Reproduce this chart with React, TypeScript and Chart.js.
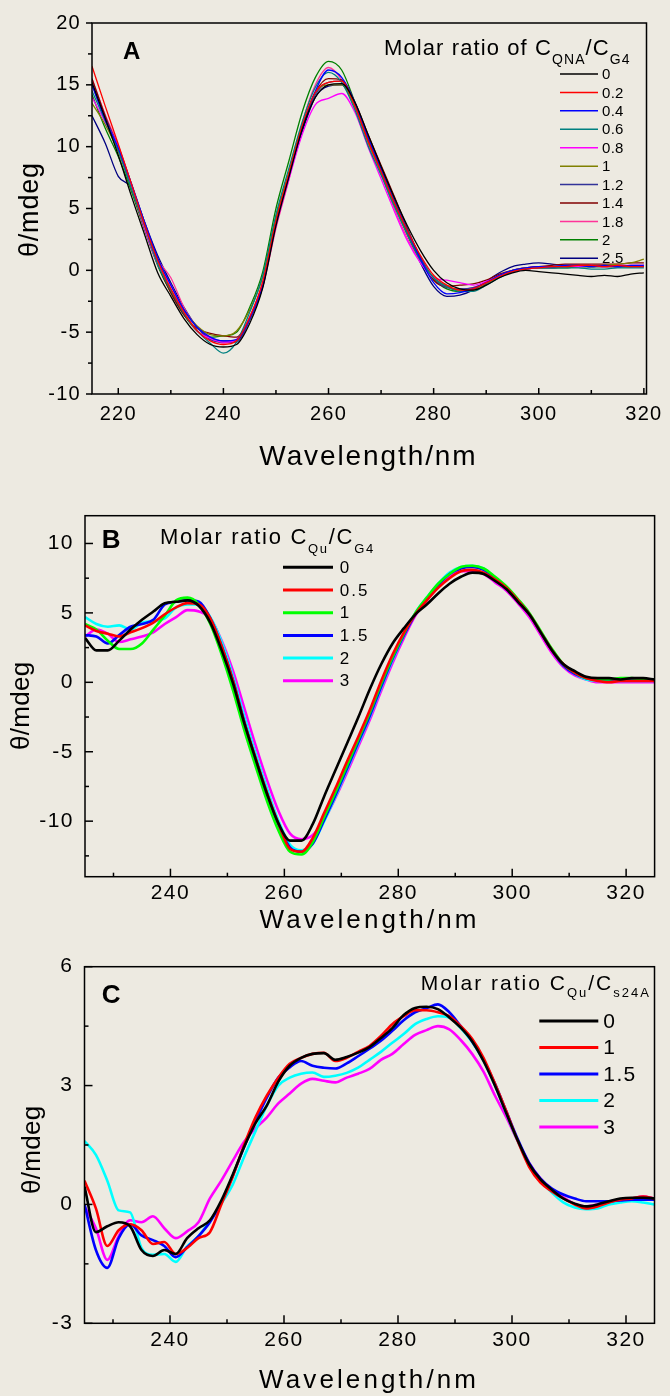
import React, { useEffect, useRef } from "react";
import { Chart, registerables } from "chart.js";

Chart.register(...registerables);

const FONT = "'Liberation Sans', Arial, Helvetica, sans-serif";
const BG = "#edeae1";

// ---------------- Panel A ----------------
const wavelengthA = [215, 217.5, 220, 222.5, 225, 227.5, 230, 232.5, 235, 237.5, 240, 242.5, 245, 247.5, 250, 252.5, 255, 257.5, 260, 262.5, 265, 267.5, 270, 272.5, 275, 277.5, 280, 282.5, 285, 287.5, 290, 292.5, 295, 297.5, 300, 302.5, 305, 307.5, 310, 312.5, 315, 317.5, 320];
const ratioLabelsA = ["0", "0.2", "0.4", "0.6", "0.8", "1", "1.2", "1.4", "1.8", "2", "2.5"];
const colorsA = ["#000000", "#ff0000", "#0000ff", "#008080", "#ff00ff", "#808000", "#333399", "#800000", "#ff3399", "#008000", "#000080"];
const thetaA_0 = [15.2, 12.3, 9.3, 6.0, 2.9, -0.2, -2.1, -3.9, -5.2, -6.0, -6.2, -6.0, -4.3, -1.4, 3.6, 7.6, 11.4, 14.0, 15.0, 15.1, 13.6, 11.0, 8.4, 5.9, 3.6, 1.6, 0.0, -1.0, -1.5, -1.6, -1.2, -0.6, -0.2, 0.0, -0.1, -0.2, -0.3, -0.4, -0.5, -0.4, -0.5, -0.3, -0.2];
const thetaA_02 = [16.5, 13.3, 10.2, 7.0, 3.7, 0.8, -1.5, -3.4, -4.9, -5.7, -6.0, -5.7, -3.8, -0.9, 4.0, 7.9, 11.7, 14.4, 15.2, 15.3, 13.3, 10.5, 8.0, 5.5, 3.2, 1.2, -0.4, -1.2, -1.6, -1.5, -1.0, -0.5, -0.1, 0.1, 0.2, 0.3, 0.3, 0.4, 0.4, 0.3, 0.4, 0.3, 0.3];
const thetaA_04 = [15.0, 12.2, 9.9, 7.0, 3.9, 1.0, -1.2, -3.2, -4.6, -5.4, -5.7, -5.6, -3.9, -1.2, 3.8, 7.7, 11.5, 14.5, 16.2, 15.6, 13.6, 10.8, 8.2, 5.6, 3.2, 0.9, -1.0, -1.9, -1.8, -1.5, -1.0, -0.4, 0.0, 0.2, 0.3, 0.3, 0.4, 0.4, 0.3, 0.4, 0.3, 0.4, 0.4];
const thetaA_06 = [14.5, 12.1, 9.7, 6.6, 3.6, 0.5, -1.6, -3.5, -4.9, -5.9, -6.7, -5.8, -3.4, -0.4, 4.5, 8.3, 12.0, 14.8, 16.0, 15.2, 13.0, 10.1, 7.7, 5.2, 2.9, 0.8, -0.6, -1.3, -1.7, -1.7, -1.2, -0.6, -0.1, 0.1, 0.2, 0.2, 0.2, 0.2, 0.1, 0.1, 0.2, 0.2, 0.2];
const thetaA_08 = [14.0, 12.0, 10.0, 6.8, 3.4, 0.5, -1.2, -3.4, -4.9, -5.5, -5.8, -5.6, -3.8, -1.0, 3.6, 7.4, 11.0, 13.4, 13.9, 14.3, 12.8, 10.0, 7.4, 4.8, 2.4, 0.6, -0.6, -0.8, -1.0, -1.2, -0.9, -0.5, -0.1, 0.1, 0.2, 0.3, 0.3, 0.3, 0.4, 0.3, 0.4, 0.4, 0.4];
const thetaA_1 = [13.5, 11.8, 9.6, 6.6, 3.5, 0.6, -1.6, -3.3, -4.5, -5.2, -5.3, -4.9, -3.2, -0.5, 4.3, 8.0, 11.7, 14.4, 15.0, 15.0, 13.2, 10.4, 7.9, 5.3, 2.9, 0.8, -0.6, -1.3, -1.6, -1.6, -1.1, -0.5, 0.0, 0.2, 0.2, 0.3, 0.3, 0.3, 0.3, 0.4, 0.5, 0.6, 0.9];
const thetaA_12 = [15.0, 12.3, 10.0, 7.0, 3.9, 0.9, -1.2, -3.2, -4.6, -5.6, -5.8, -5.8, -4.0, -1.2, 3.9, 7.8, 11.5, 14.2, 15.2, 15.3, 13.5, 10.7, 8.2, 5.7, 3.3, 1.1, -0.6, -1.4, -1.5, -1.4, -1.0, -0.5, -0.1, 0.1, 0.2, 0.2, 0.3, 0.3, 0.3, 0.4, 0.3, 0.3, 0.3];
const thetaA_14 = [15.5, 12.5, 9.8, 6.7, 3.4, 0.5, -1.8, -3.6, -4.7, -5.1, -5.3, -5.4, -3.8, -1.0, 4.0, 7.8, 11.6, 14.4, 15.5, 15.4, 13.6, 11.0, 8.5, 6.0, 3.4, 1.0, -0.8, -1.3, -1.2, -1.1, -0.8, -0.3, 0.0, 0.2, 0.3, 0.4, 0.5, 0.5, 0.5, 0.5, 0.5, 0.6, 0.6];
const thetaA_18 = [15.5, 12.6, 10.1, 6.9, 3.6, 0.9, -0.6, -3.0, -4.6, -5.4, -5.9, -5.6, -3.9, -1.3, 3.4, 7.4, 11.9, 15.0, 16.4, 15.4, 13.2, 10.3, 7.8, 5.0, 2.6, 0.7, -0.6, -1.3, -1.6, -1.4, -1.0, -0.4, 0.0, 0.2, 0.3, 0.3, 0.3, 0.4, 0.4, 0.3, 0.3, 0.4, 0.4];
const thetaA_2 = [14.2, 11.5, 9.2, 6.4, 3.3, 0.4, -1.8, -3.6, -4.9, -5.4, -5.3, -5.0, -3.0, -0.1, 5.0, 8.9, 12.8, 15.6, 16.9, 16.2, 13.6, 10.6, 8.0, 5.4, 3.0, 0.9, -0.7, -1.5, -1.7, -1.5, -1.0, -0.5, -0.1, 0.1, 0.2, 0.2, 0.2, 0.3, 0.3, 0.3, 0.3, 0.3, 0.4];
const thetaA_25 = [12.5, 10.3, 7.6, 6.7, 3.9, 1.2, -1.0, -3.0, -4.6, -5.5, -5.7, -5.7, -4.0, -1.3, 3.9, 7.6, 11.2, 14.0, 14.9, 15.0, 13.3, 10.6, 8.0, 5.4, 2.9, 0.6, -1.3, -2.1, -2.0, -1.6, -0.9, -0.2, 0.3, 0.5, 0.6, 0.5, 0.4, 0.4, 0.3, 0.3, 0.3, 0.3, 0.3];
const xMajorA = [220, 240, 260, 280, 300, 320];
const xMinorA = [230, 250, 270, 290, 310];
const yMajorA = [-10, -5, 0, 5, 10, 15, 20];
const yMinorA = [-7.5, -2.5, 2.5, 7.5, 12.5, 17.5];

// ---------------- Panel B ----------------
const wavelengthB = [225, 227, 229, 231, 233, 235, 237, 239, 241, 243, 245, 247, 249, 251, 253, 255, 257, 259, 261, 263, 265, 267, 269, 271, 273, 275, 277, 279, 281, 283, 285, 287, 289, 291, 293, 295, 297, 299, 301, 303, 305, 307, 309, 311, 313, 315, 317, 319, 321, 323, 325];
const ratioLabelsB = ["0", "0.5", "1", "1.5", "2", "3"];
const colorsB = ["#000000", "#ff0000", "#00ff00", "#0000ff", "#00ffff", "#ff00ff"];
const thetaB_0 = [3.2, 2.3, 2.3, 3.0, 3.8, 4.5, 5.1, 5.7, 5.8, 5.9, 5.5, 4.3, 2.3, -0.1, -3.0, -5.6, -8.1, -10.2, -11.4, -11.4, -10.2, -8.2, -6.3, -4.4, -2.5, -0.5, 1.3, 2.8, 3.9, 4.9, 5.6, 6.4, 7.1, 7.6, 7.9, 7.8, 7.3, 6.7, 5.8, 4.9, 3.6, 2.3, 1.3, 0.8, 0.4, 0.3, 0.3, 0.2, 0.3, 0.3, 0.2];
const thetaB_05 = [4.1, 3.7, 3.5, 3.3, 3.6, 3.9, 4.3, 4.9, 5.4, 5.7, 5.6, 4.6, 2.6, 0.1, -2.9, -5.5, -8.0, -10.2, -12.0, -12.2, -11.2, -9.4, -7.6, -5.7, -3.9, -2.0, 0.1, 2.0, 3.6, 4.9, 5.9, 6.8, 7.5, 8.0, 8.1, 7.9, 7.4, 6.8, 5.9, 4.9, 3.6, 2.3, 1.3, 0.7, 0.3, 0.1, 0.0, 0.1, 0.1, 0.1, 0.1];
const thetaB_1 = [4.2, 3.8, 3.0, 2.4, 2.4, 2.8, 3.8, 4.8, 5.9, 6.1, 5.6, 4.2, 2.0, -0.6, -3.5, -6.1, -8.6, -10.7, -12.2, -12.4, -11.5, -9.7, -7.9, -6.0, -4.1, -2.2, -0.1, 1.8, 3.5, 5.0, 6.1, 7.1, 7.8, 8.3, 8.4, 8.2, 7.6, 6.9, 6.0, 5.0, 3.7, 2.4, 1.3, 0.7, 0.3, 0.2, 0.2, 0.3, 0.3, 0.2, 0.2];
const thetaB_15 = [3.4, 3.3, 2.8, 3.4, 4.0, 4.2, 4.5, 5.6, 5.8, 5.9, 5.8, 4.6, 2.6, 0.1, -2.9, -5.6, -8.1, -10.3, -11.9, -12.2, -11.6, -9.9, -8.1, -6.2, -4.3, -2.4, -0.3, 1.7, 3.4, 4.9, 6.0, 7.0, 7.8, 8.2, 8.3, 8.1, 7.5, 6.8, 5.9, 4.9, 3.6, 2.3, 1.2, 0.6, 0.3, 0.2, 0.1, 0.2, 0.2, 0.2, 0.1];
const thetaB_2 = [4.7, 4.2, 4.0, 4.1, 3.8, 4.3, 4.4, 4.6, 5.4, 5.6, 5.6, 4.7, 2.9, 0.4, -2.5, -5.2, -7.7, -10.0, -11.7, -12.1, -11.6, -10.0, -8.2, -6.3, -4.4, -2.5, -0.4, 1.6, 3.4, 5.0, 6.1, 7.1, 7.9, 8.3, 8.4, 8.2, 7.5, 6.8, 5.9, 4.9, 3.6, 2.3, 1.2, 0.6, 0.2, 0.1, 0.1, 0.1, 0.1, 0.1, 0.1];
const thetaB_3 = [3.3, 3.8, 3.5, 2.9, 3.1, 3.3, 3.6, 4.2, 4.7, 5.2, 5.1, 4.6, 3.0, 0.8, -1.9, -4.6, -7.1, -9.3, -10.9, -11.3, -11.0, -9.9, -8.3, -6.5, -4.6, -2.7, -0.6, 1.4, 3.2, 4.8, 5.9, 6.9, 7.6, 8.0, 8.0, 7.8, 7.2, 6.6, 5.7, 4.7, 3.4, 2.1, 1.1, 0.5, 0.2, 0.0, 0.0, 0.0, 0.0, 0.0, 0.0];
const xMajorB = [240, 260, 280, 300, 320];
const xMinorB = [230, 250, 270, 290, 310];
const yMajorB = [-10, -5, 0, 5, 10];
const yMinorB = [-12.5, -7.5, -2.5, 2.5, 7.5];

// ---------------- Panel C ----------------
const wavelengthC = [225, 227, 229, 231, 233, 235, 237, 239, 241, 243, 245, 247, 249, 251, 253, 255, 257, 259, 261, 263, 265, 267, 269, 271, 273, 275, 277, 279, 281, 283, 285, 287, 289, 291, 293, 295, 297, 299, 301, 303, 305, 307, 309, 311, 313, 315, 317, 319, 321, 323, 325];
const ratioLabelsC = ["0", "1", "1.5", "2", "3"];
const colorsC = ["#000000", "#ff0000", "#0000ff", "#00ffff", "#ff00ff"];
const thetaC_0 = [0.45, -0.7, -0.55, -0.45, -0.55, -1.15, -1.3, -1.15, -1.25, -0.85, -0.6, -0.4, 0.1, 0.75, 1.45, 2.05, 2.5, 3.1, 3.5, 3.7, 3.8, 3.82, 3.65, 3.72, 3.83, 3.97, 4.2, 4.45, 4.78, 4.96, 4.99, 4.93, 4.72, 4.46, 4.12, 3.62, 3.0, 2.3, 1.62, 1.02, 0.63, 0.37, 0.15, 0.02, -0.05, 0.0, 0.08, 0.15, 0.17, 0.17, 0.15];
const thetaC_1 = [0.6, -0.1, -1.05, -0.65, -0.5, -0.65, -1.0, -0.95, -1.25, -1.1, -0.85, -0.7, 0.0, 0.7, 1.5, 2.2, 2.75, 3.2, 3.55, 3.7, 3.8, 3.83, 3.62, 3.7, 3.85, 4.0, 4.25, 4.55, 4.75, 4.9, 4.9, 4.85, 4.75, 4.5, 4.18, 3.7, 3.05, 2.35, 1.6, 0.95, 0.55, 0.33, 0.15, 0.0, -0.1, -0.05, 0.05, 0.12, 0.15, 0.2, 0.15];
const thetaC_15 = [0.0, -1.15, -1.6, -0.85, -0.5, -0.78, -0.9, -1.05, -1.33, -1.08, -0.8, -0.45, 0.05, 0.72, 1.45, 2.1, 2.7, 3.2, 3.46, 3.62, 3.5, 3.45, 3.43, 3.56, 3.74, 3.93, 4.13, 4.38, 4.65, 4.85, 4.95, 5.05, 4.85, 4.5, 4.12, 3.65, 3.05, 2.35, 1.65, 1.05, 0.65, 0.4, 0.25, 0.15, 0.08, 0.08, 0.08, 0.1, 0.12, 0.12, 0.12];
const thetaC_2 = [1.6, 1.25, 0.6, -0.15, -0.2, -1.1, -1.27, -1.25, -1.45, -1.06, -0.8, -0.42, 0.02, 0.5, 1.2, 1.85, 2.5, 3.0, 3.2, 3.3, 3.33, 3.22, 3.25, 3.32, 3.45, 3.65, 3.85, 4.08, 4.3, 4.55, 4.68, 4.75, 4.72, 4.45, 4.1, 3.62, 3.0, 2.3, 1.6, 1.0, 0.6, 0.3, 0.05, -0.08, -0.12, -0.1, 0.0, 0.05, 0.08, 0.05, 0.0];
const thetaC_3 = [-0.05, -0.6, -1.4, -0.8, -0.4, -0.45, -0.3, -0.6, -0.85, -0.68, -0.45, 0.15, 0.6, 1.1, 1.58, 1.92, 2.2, 2.55, 2.8, 3.05, 3.17, 3.12, 3.08, 3.2, 3.3, 3.42, 3.65, 3.8, 4.05, 4.28, 4.4, 4.5, 4.42, 4.15, 3.8, 3.35, 2.75, 2.2, 1.6, 1.05, 0.65, 0.38, 0.18, 0.02, -0.05, 0.0, 0.05, 0.1, 0.15, 0.2, 0.15];
const xMajorC = [240, 260, 280, 300, 320];
const xMinorC = [230, 250, 270, 290, 310];
const yMajorC = [-3, 0, 3, 6];
const yMinorC = [-1.5, 1.5, 4.5];

// ---------------- Panel configurations ----------------
const panelA = {
  height: 475,
  area: { left: 92, top: 21, right: 646.5, bottom: 394 },
  xMin: 215, xMax: 320.5, yMin: -10, yMax: 20,
  xMajor: xMajorA, xMinor: xMinorA, yMajor: yMajorA, yMinor: yMinorA,
  yTicksOutside: true, majorLen: 6, minorLen: 4,
  tick: { size: 20, ls: 1.3, padY: 11, padX: 8.5 },
  xTitle: { text: "Wavelength/nm", size: 28, ls: 1.9, x: 367.5, y: 465 },
  yTitle: { text: "θ/mdeg", size: 27, ls: 0.8, x: 38, y: 210 },
  letter: { text: "A", size: 24, x: 123, y: 59 },
  legend: {
    title: [
      { text: "Molar ratio of C", size: 22, dy: 0 },
      { text: "QNA", size: 14, dy: 9 },
      { text: "/C", size: 22, dy: 0 },
      { text: "G4", size: 14, dy: 9 },
    ],
    titleX: 384, titleY: 55, titleLs: 1.1,
    x1: 560, x2: 598, textX: 602, y0: 74, dy: 18.43, size: 15, ls: 0.3, lw: 1.5,
  },
  wl: wavelengthA,
  series: [thetaA_0, thetaA_02, thetaA_04, thetaA_06, thetaA_08, thetaA_1, thetaA_12, thetaA_14, thetaA_18, thetaA_2, thetaA_25],
  labels: ratioLabelsA, colors: colorsA, lineWidth: 1.3,
};

const panelB = {
  height: 460,
  area: { left: 85, top: 40.7, right: 654.6, bottom: 401.7 },
  xMin: 225, xMax: 325, yMin: -14, yMax: 12,
  xMajor: xMajorB, xMinor: xMinorB, yMajor: yMajorB, yMinor: yMinorB,
  yTicksOutside: false, majorLen: 8, minorLen: 4,
  tick: { size: 21, ls: 1.5, padY: 11, padX: 3.7 },
  xTitle: { text: "Wavelength/nm", size: 26, ls: 3.1, x: 368, y: 453 },
  yTitle: { text: "θ/mdeg", size: 26, ls: 0.3, x: 29, y: 231 },
  letter: { text: "B", size: 26, x: 101.7, y: 73.3 },
  legend: {
    title: [
      { text: "Molar ratio C", size: 22, dy: 0 },
      { text: "Qu", size: 13, dy: 8.4 },
      { text: "/C", size: 22, dy: 0 },
      { text: "G4", size: 13, dy: 8.4 },
    ],
    titleX: 160, titleY: 69.3, titleLs: 1.7,
    x1: 283, x2: 333, textX: 339.7, y0: 92.3, dy: 22.7, size: 17, ls: 2, lw: 3,
  },
  wl: wavelengthB,
  series: [thetaB_0, thetaB_05, thetaB_1, thetaB_15, thetaB_2, thetaB_3],
  labels: ratioLabelsB, colors: colorsB, lineWidth: 2.6,
};

const panelC = {
  height: 461,
  area: { left: 84.5, top: 31.7, right: 654.5, bottom: 388.3 },
  xMin: 225, xMax: 325, yMin: -3, yMax: 6,
  xMajor: xMajorC, xMinor: xMinorC, yMajor: yMajorC, yMinor: yMinorC,
  yTicksOutside: false, majorLen: 8, minorLen: 4,
  tick: { size: 21, ls: 1.5, padY: 11, padX: 4.1 },
  xTitle: { text: "Wavelength/nm", size: 26, ls: 3.1, x: 367.5, y: 453 },
  yTitle: { text: "θ/mdeg", size: 26, ls: 0.3, x: 40, y: 215 },
  letter: { text: "C", size: 26, x: 101.7, y: 68 },
  legend: {
    title: [
      { text: "Molar ratio C", size: 21, dy: 0 },
      { text: "Qu", size: 13, dy: 7.3 },
      { text: "/C", size: 21, dy: 0 },
      { text: "s24A", size: 13, dy: 7.3 },
    ],
    titleX: 420.7, titleY: 55, titleLs: 2.0,
    x1: 539.3, x2: 598.3, textX: 603.3, y0: 86, dy: 26.5, size: 21, ls: 1.4, lw: 3,
  },
  wl: wavelengthC,
  series: [thetaC_0, thetaC_1, thetaC_15, thetaC_2, thetaC_3],
  labels: ratioLabelsC, colors: colorsC, lineWidth: 2.6,
};

// ---------------- Decoration plugin (frame, ticks, titles, legend) ----------------
const decorPlugin = {
  id: "decor",
  beforeDraw(chart: any, _args: any, opts: any) {
    (chart.ctx as any).letterSpacing = opts.tick.ls + "px";
  },
  afterDraw(chart: any, _args: any, opts: any) {
    const ctx = chart.ctx as any;
    const { left, top, right, bottom } = chart.chartArea;
    const xs = chart.scales.x;
    const ys = chart.scales.y;
    ctx.save();
    ctx.letterSpacing = "0px";
    ctx.strokeStyle = "#000";
    ctx.lineWidth = 1.5;
    ctx.strokeRect(left, top, right - left, bottom - top);

    const seg = (x1: number, y1: number, x2: number, y2: number) => {
      ctx.beginPath();
      ctx.moveTo(x1, y1);
      ctx.lineTo(x2, y2);
      ctx.stroke();
    };
    const drawX = (vals: number[], len: number) => {
      vals.forEach((v) => {
        const px = xs.getPixelForValue(v);
        seg(px, bottom, px, bottom - len);
      });
    };
    const drawY = (vals: number[], len: number) => {
      vals.forEach((v) => {
        const py = ys.getPixelForValue(v);
        if (opts.yTicksOutside) seg(left, py, left - len, py);
        else seg(left, py, left + len, py);
      });
    };
    drawX(opts.xMajor, opts.majorLen);
    drawX(opts.xMinor, opts.minorLen);
    drawY(opts.yMajor, opts.majorLen);
    drawY(opts.yMinor, opts.minorLen);

    ctx.fillStyle = "#000";
    // x title
    ctx.font = `${opts.xTitle.size}px ${FONT}`;
    ctx.letterSpacing = opts.xTitle.ls + "px";
    ctx.textAlign = "center";
    ctx.textBaseline = "alphabetic";
    ctx.fillText(opts.xTitle.text, opts.xTitle.x + opts.xTitle.ls / 2, opts.xTitle.y);
    // y title
    ctx.save();
    ctx.font = `${opts.yTitle.size}px ${FONT}`;
    ctx.letterSpacing = opts.yTitle.ls + "px";
    ctx.translate(opts.yTitle.x, opts.yTitle.y);
    ctx.rotate(-Math.PI / 2);
    ctx.textAlign = "center";
    ctx.fillText(opts.yTitle.text, opts.yTitle.ls / 2, 0);
    ctx.restore();
    // panel letter
    ctx.font = `bold ${opts.letter.size}px ${FONT}`;
    ctx.letterSpacing = "0px";
    ctx.textAlign = "left";
    ctx.fillText(opts.letter.text, opts.letter.x, opts.letter.y);

    // legend title with subscripts
    const lg = opts.legend;
    let cx = lg.titleX;
    ctx.letterSpacing = lg.titleLs + "px";
    lg.title.forEach((p: any) => {
      ctx.font = `${p.size}px ${FONT}`;
      ctx.fillText(p.text, cx, lg.titleY + p.dy);
      cx += ctx.measureText(p.text).width;
    });
    // legend entries from datasets
    ctx.letterSpacing = lg.ls + "px";
    ctx.font = `${lg.size}px ${FONT}`;
    ctx.textBaseline = "middle";
    chart.data.datasets.forEach((ds: any, i: number) => {
      const y = lg.y0 + i * lg.dy;
      ctx.strokeStyle = ds.borderColor;
      ctx.lineWidth = lg.lw;
      seg(lg.x1, y, lg.x2, y);
      ctx.fillStyle = "#000";
      ctx.fillText(ds.label, lg.textX, y + 1);
    });
    ctx.restore();
    ctx.letterSpacing = "0px";
  },
};

function Panel({ cfg }: { cfg: any }) {
  const ref = useRef<HTMLCanvasElement>(null);
  useEffect(() => {
    const canvas = ref.current;
    if (!canvas) return;
    const datasets = cfg.series.map((s: number[], i: number) => ({
      label: cfg.labels[i],
      data: cfg.wl.map((x: number, j: number) => ({ x, y: s[j] })),
      borderColor: cfg.colors[i],
      backgroundColor: cfg.colors[i],
      borderWidth: cfg.lineWidth,
      pointRadius: 0,
      fill: false,
      tension: 0.4,
      cubicInterpolationMode: "monotone",
    }));
    const chart = new Chart(canvas, {
      type: "line",
      data: { datasets },
      options: {
        responsive: false,
        animation: false,
        events: [],
        layout: {
          padding: { left: 0, top: cfg.area.top, right: 670 - cfg.area.right, bottom: 0 },
        },
        plugins: {
          legend: { display: false },
          tooltip: { enabled: false },
          decor: cfg,
        } as any,
        scales: {
          x: {
            type: "linear",
            min: cfg.xMin,
            max: cfg.xMax,
            grid: { display: false, drawTicks: false },
            border: { display: false },
            ticks: {
              color: "#000",
              font: { family: FONT, size: cfg.tick.size },
              padding: cfg.tick.padX,
              maxRotation: 0,
              autoSkip: false,
              callback: (v: any) => String(v),
            },
            afterBuildTicks: (s: any) => {
              s.ticks = cfg.xMajor.map((v: number) => ({ value: v }));
            },
            afterFit: (s: any) => {
              s.height = cfg.height - cfg.area.bottom;
            },
          },
          y: {
            type: "linear",
            min: cfg.yMin,
            max: cfg.yMax,
            grid: { display: false, drawTicks: false },
            border: { display: false },
            ticks: {
              color: "#000",
              font: { family: FONT, size: cfg.tick.size },
              padding: cfg.tick.padY,
              autoSkip: false,
              callback: (v: any) => String(v),
            },
            afterBuildTicks: (s: any) => {
              s.ticks = cfg.yMajor.map((v: number) => ({ value: v }));
            },
            afterFit: (s: any) => {
              s.width = cfg.area.left;
            },
          },
        },
      } as any,
      plugins: [decorPlugin],
    });
    return () => chart.destroy();
  }, [cfg]);
  return (
    <canvas
      ref={ref}
      width={670}
      height={cfg.height}
      style={{ display: "block", width: 670, height: cfg.height }}
    />
  );
}

export default function App() {
  return (
    <div
      style={{
        position: "absolute",
        left: 0,
        top: 0,
        width: 670,
        height: 1396,
        background: BG,
        overflow: "hidden",
      }}
    >
      <Panel cfg={panelA} />
      <Panel cfg={panelB} />
      <Panel cfg={panelC} />
    </div>
  );
}
